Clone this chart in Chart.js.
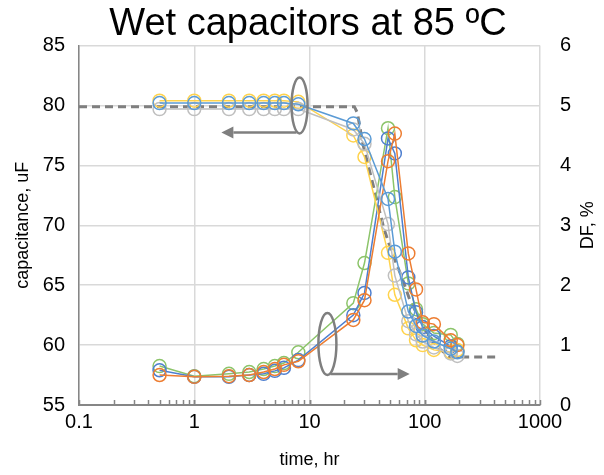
<!DOCTYPE html>
<html>
<head>
<meta charset="utf-8">
<script src="https://cdn.jsdelivr.net/npm/chart.js@4/dist/chart.umd.min.js"></script>
<style>
  html, body { margin: 0; padding: 0; background: #fff; }
  #wrap { width: 604px; height: 475px; }
</style>
</head>
<body>
<div id="wrap"><canvas id="capChart" width="604" height="475"></canvas></div>
<script>
// sampling times (hours)
const timeHr = [0.5, 1, 2, 3, 4, 5, 6, 8, 24, 30, 48, 55, 72, 84, 96, 120, 168, 192];

// capacitance, uF (left axis)
const capBlue   = [80.2, 80.2, 80.2, 80.2, 80.2, 80.2, 80.2, 80.1, 78.5, 77.2, 72.2, 67.8, 62.8, 61.6, 60.8, 60.3, 59.7, 59.4];
const capGray   = [79.7, 79.7, 79.7, 79.7, 79.7, 79.7, 79.7, 79.7, 78.0, 76.8, 70.1, 65.8, 62.0, 60.9, 60.3, 59.8, 59.3, 59.1];
const capYellow = [80.4, 80.4, 80.4, 80.4, 80.4, 80.4, 80.4, 80.3, 77.5, 75.7, 67.7, 64.2, 61.4, 60.4, 60.0, 59.6, 59.4, 59.6];

// dissipation factor, % (right axis)
const dfOrange = [0.50, 0.47, 0.48, 0.50, 0.55, 0.60, 0.67, 0.73, 1.42, 1.75, 4.07, 4.53, 2.53, 1.93, 1.38, 1.35, 1.08, 1.00];
const dfBlue   = [0.58, 0.47, 0.47, 0.50, 0.52, 0.57, 0.62, 0.75, 1.50, 1.87, 4.45, 4.20, 2.13, 1.55, 1.30, 1.15, 0.98, 0.90];
const dfGreen  = [0.65, 0.48, 0.52, 0.55, 0.60, 0.65, 0.70, 0.88, 1.70, 2.37, 4.62, 3.47, 2.03, 1.60, 1.35, 1.20, 1.17, 1.02];

// dashed reference curve (left axis)
const refTime = [0.1, 24.5, 26, 29, 36, 44, 52, 63, 74, 100, 130, 165, 430];
const refCap  = [79.9, 79.9, 79.4, 76.8, 73.2, 69.8, 67.7, 65.7, 63.8, 61.3, 59.8, 59.0, 59.0];

const xTicks = [0.1, 1, 10, 100, 1000];

const pts = (xs, ys) => xs.map((x, i) => ({ x: x, y: ys[i] }));

function series(label, values, color, axis) {
    return {
        label: label,
        data: pts(timeHr, values),
        yAxisID: axis,
        borderColor: color,
        borderWidth: 1.5,
        pointStyle: 'circle',
        pointRadius: 6.5,
        pointBorderWidth: 1.5,
        pointBackgroundColor: 'rgba(0,0,0,0)',
        pointBorderColor: color,
        tension: 0
    };
}

// circled groups with arrows pointing to their axis
const callouts = [
    { t: 8.2, v: 80.0, axis: 'yCap', rx: 8, ry: 28, arrowTo: 1.72, side: 'left' },
    { t: 14.3, v: 1.02, axis: 'yDf', rx: 9, ry: 31, arrowTo: 74, side: 'right' }
];

const calloutPlugin = {
    id: 'callouts',
    afterDatasetsDraw(chart) {
        const ctx = chart.ctx;
        const xs = chart.scales.x;
        ctx.save();
        ctx.strokeStyle = '#7f7f7f';
        ctx.fillStyle = '#7f7f7f';
        ctx.lineWidth = 2.5;
        callouts.forEach(c => {
            const cx = xs.getPixelForValue(c.t);
            const cy = chart.scales[c.axis].getPixelForValue(c.v);
            ctx.beginPath();
            ctx.ellipse(cx, cy, c.rx, c.ry, 0, 0, Math.PI * 2);
            ctx.stroke();
            const ay = cy + c.ry - 1;
            const tip = xs.getPixelForValue(c.arrowTo);
            const dir = c.side === 'left' ? -1 : 1;
            const base = tip - dir * 12;
            ctx.beginPath();
            ctx.moveTo(cx + dir * 3, ay);
            ctx.lineTo(base, ay);
            ctx.stroke();
            ctx.beginPath();
            ctx.moveTo(tip, ay);
            ctx.lineTo(base, ay - 6);
            ctx.lineTo(base, ay + 6);
            ctx.closePath();
            ctx.fill();
        });
        ctx.restore();
    }
};

// small minor tick marks on the log axis, pointing up into the plot,
// plus the right axis title written bottom-to-top like the left one
const axisExtrasPlugin = {
    id: 'axisExtras',
    afterDraw(chart) {
        const ctx = chart.ctx;
        const xs = chart.scales.x;
        const area = chart.chartArea;
        ctx.save();
        ctx.strokeStyle = '#868686';
        ctx.lineWidth = 1.5;
        [0.1, 1, 10, 100].forEach(d => {
            for (let k = 1; k <= 10; k++) {
                const px = Math.round(xs.getPixelForValue(d * k)) + 0.5;
                ctx.beginPath();
                ctx.moveTo(px, area.bottom);
                ctx.lineTo(px, area.bottom - 5);
                ctx.stroke();
            }
        });
        ctx.translate(chart.width - 16, (area.top + area.bottom) / 2);
        ctx.rotate(-Math.PI / 2);
        ctx.fillStyle = '#000';
        ctx.font = '18px "Liberation Sans", Arial, sans-serif';
        ctx.textAlign = 'center';
        ctx.textBaseline = 'middle';
        ctx.fillText('DF, %', 0, 0);
        ctx.restore();
    }
};

Chart.defaults.font.family = '"Liberation Sans", Arial, sans-serif';
Chart.defaults.color = '#000';

new Chart(document.getElementById('capChart'), {
    type: 'line',
    data: {
        datasets: [
            series('Cap A', capBlue, '#5b9bd5', 'yCap'),
            series('DF A', dfOrange, '#ed7d31', 'yDf'),
            series('Cap B', capGray, '#bfbfbf', 'yCap'),
            series('Cap C', capYellow, '#ffd34d', 'yCap'),
            series('DF B', dfBlue, '#4e7fcf', 'yDf'),
            series('DF C', dfGreen, '#8cc46a', 'yDf'),
            {
                label: 'Reference',
                data: pts(refTime, refCap),
                yAxisID: 'yCap',
                borderColor: '#7f7f7f',
                borderWidth: 3,
                borderDash: [8, 5],
                pointRadius: 0,
                tension: 0
            }
        ]
    },
    options: {
        responsive: false,
        animation: false,
        layout: { padding: { left: 12, right: 0, top: 0, bottom: 0 } },
        plugins: {
            legend: { display: false },
            tooltip: { enabled: false },
            title: {
                display: true,
                text: 'Wet capacitors at 85 ºC',
                font: { size: 38, weight: 'normal', lineHeight: 1.12 },
                color: '#000',
                padding: { top: 3, bottom: 0 }
            }
        },
        scales: {
            x: {
                type: 'logarithmic',
                min: 0.1,
                max: 1000,
                afterBuildTicks(scale) {
                    scale.ticks = xTicks.map(v => ({ value: v }));
                },
                afterFit(scale) { scale.height = 70; },
                ticks: {
                    font: { size: 20 },
                    padding: 5,
                    callback: v => String(v)
                },
                grid: { color: '#d9d9d9', lineWidth: 1.5, drawTicks: false },
                border: { color: '#868686', width: 2 },
                title: { display: true, text: 'time, hr', font: { size: 18 }, padding: { top: 6, bottom: 4 } }
            },
            yCap: {
                position: 'left',
                min: 55,
                max: 85,
                afterFit(scale) { scale.width = 67; },
                ticks: { stepSize: 5, font: { size: 20 }, padding: 14 },
                grid: { color: '#d9d9d9', lineWidth: 1.5, drawTicks: false },
                border: { color: '#868686', width: 1.5 },
                title: { display: true, text: 'capacitance, uF', font: { size: 18 }, padding: { top: 0, bottom: 0 } }
            },
            yDf: {
                position: 'right',
                min: 0,
                max: 6,
                afterFit(scale) { scale.width = 64; },
                ticks: { stepSize: 1, font: { size: 20 }, padding: 20 },
                grid: { display: false, drawTicks: false },
                border: { display: false }
            }
        }
    },
    plugins: [calloutPlugin, axisExtrasPlugin]
});
</script>
</body>
</html>
